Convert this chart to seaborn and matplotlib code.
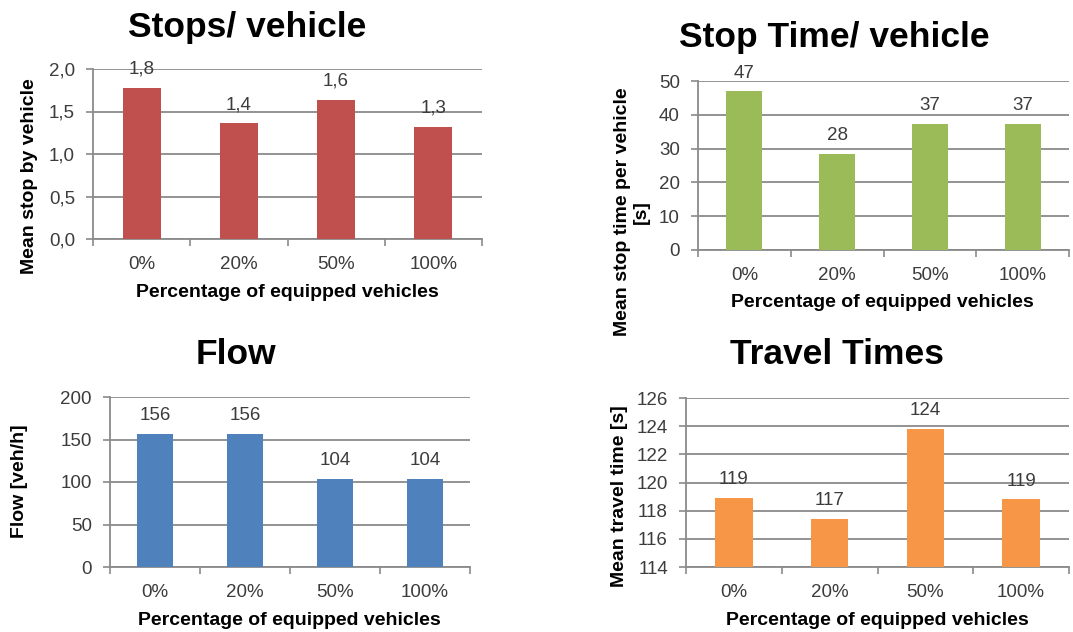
import matplotlib
matplotlib.use("Agg")
import matplotlib.pyplot as plt
import pandas as pd
import seaborn as sns

# ---- data -------------------------------------------------------------
categories = ["0%", "20%", "50%", "100%"]
stops_per_vehicle = [1.78, 1.36, 1.64, 1.32]
stop_time_per_vehicle = [46.9, 28.3, 37.4, 37.4]
flow = [156.4, 156.4, 103.9, 104.0]
travel_time = [118.9, 117.4, 123.8, 118.8]

stops_ticks = [0.0, 0.5, 1.0, 1.5, 2.0]
stop_time_ticks = [0, 10, 20, 30, 40, 50]
flow_ticks = [0, 50, 100, 150, 200]
travel_ticks = [114, 116, 118, 120, 122, 124, 126]

XLABEL = "Percentage of equipped vehicles"

# ---- style ------------------------------------------------------------
sns.set_theme(style="white")
plt.rcParams["font.family"] = ["Liberation Sans", "DejaVu Sans"]

W, H = 1073, 632
fig = plt.figure(figsize=(W / 100, H / 100), dpi=100)
fig.patch.set_facecolor("white")

GRID = "#8a8a8a"
TXT = "#3c3c3c"
TICK_FS = 13.5
VAL_FS = 13.5
LAB_FS = 14
TITLE_FS = 25.5


def comma(v, nd):
    return f"{v:.{nd}f}".replace(".", ",")


def px_axes(left, right, top, bottom):
    return fig.add_axes([left / W, 1 - bottom / H, (right - left) / W, (bottom - top) / H])


def ftext(x, y, s, **kw):
    return fig.text(x / W, 1 - y / H, s, **kw)


panels = [
    dict(box=(93, 482, 69, 239), values=stops_per_vehicle, color="#C0504D",
         ylim=(0, 2.0), ticks=stops_ticks, tickfmt=lambda v: comma(v, 1),
         labfmt=lambda v: comma(v, 1),
         title="Stops/ vehicle", title_xy=(247, 37),
         xlabel_xy=(287, 297),
         ylabel="Mean stop by vehicle", ylabel_xy=(30, 176)),
    dict(box=(698, 1069, 81, 250), values=stop_time_per_vehicle, color="#9BBB59",
         ylim=(0, 50), ticks=stop_time_ticks, tickfmt=lambda v: f"{v:.0f}",
         labfmt=lambda v: f"{v:.0f}",
         title="Stop Time/ vehicle", title_xy=(834, 47),
         xlabel_xy=(882, 307),
         ylabel="Mean stop time per vehicle\n[s]", ylabel_xy=(632, 212)),
    dict(box=(110, 470, 397, 567), values=flow, color="#4F81BD",
         ylim=(0, 200), ticks=flow_ticks, tickfmt=lambda v: f"{v:.0f}",
         labfmt=lambda v: f"{v:.0f}",
         title="Flow", title_xy=(236, 364),
         xlabel_xy=(289, 625),
         ylabel="Flow [veh/h]", ylabel_xy=(20, 481)),
    dict(box=(686, 1069, 398, 567), values=travel_time, color="#F79646",
         ylim=(114, 126), ticks=travel_ticks, tickfmt=lambda v: f"{v:.0f}",
         labfmt=lambda v: f"{v:.0f}",
         title="Travel Times", title_xy=(837, 364),
         xlabel_xy=(877, 625),
         ylabel="Mean travel time [s]", ylabel_xy=(620, 496)),
]

for p in panels:
    ax = px_axes(*p["box"])
    df = pd.DataFrame({"pct": categories, "val": p["values"]})
    sns.barplot(data=df, x="pct", y="val", color=p["color"], width=0.39,
                saturation=1, linewidth=0, ax=ax, zorder=3)
    ax.set_axisbelow(True)
    ax.set_xlim(-0.5, len(categories) - 0.5)
    ax.set_ylim(*p["ylim"])
    ax.set_xlabel("")
    ax.set_ylabel("")

    # y axis: gridlines, outward ticks, formatted labels
    ax.set_yticks(p["ticks"])
    ax.set_yticklabels([p["tickfmt"](v) for v in p["ticks"]])
    ax.yaxis.grid(True, color=GRID, lw=1.3)
    ax.tick_params(axis="y", left=True, direction="out", length=5, width=1.2,
                   color=GRID, pad=8, labelsize=TICK_FS, labelcolor=TXT)

    # x axis: ticks between categories, labels under category centres
    ax.set_xticks([i - 0.5 for i in range(len(categories) + 1)])
    ax.set_xticklabels([""] * (len(categories) + 1))
    ax.set_xticks(range(len(categories)), minor=True)
    ax.set_xticklabels(categories, minor=True)
    ax.tick_params(axis="x", which="major", bottom=True, direction="out",
                   length=5, width=1.2, color=GRID)
    ax.tick_params(axis="x", which="minor", bottom=True, length=0, pad=12.5,
                   labelsize=TICK_FS, labelcolor=TXT)

    for side in ("top", "right"):
        ax.spines[side].set_visible(False)
    for side in ("left", "bottom"):
        ax.spines[side].set_color(GRID)
        ax.spines[side].set_linewidth(1.3)

    # value labels above bars
    for i, v in enumerate(p["values"]):
        ax.annotate(p["labfmt"](v), (i, v), xytext=(0, 10),
                    textcoords="offset points", ha="center", va="baseline",
                    fontsize=VAL_FS, color=TXT, zorder=4, annotation_clip=False)

    tx, ty = p["title_xy"]
    ftext(tx, ty, p["title"], ha="center", va="baseline",
          fontsize=TITLE_FS, fontweight="bold", color="black")
    xx, xy = p["xlabel_xy"]
    ftext(xx, xy, XLABEL, ha="center", va="baseline",
          fontsize=LAB_FS, fontweight="bold", color="black")
    yx, yy = p["ylabel_xy"]
    ftext(yx, yy, p["ylabel"], ha="center", va="center", rotation=90,
          multialignment="center", fontsize=LAB_FS, fontweight="bold",
          color="black")

fig.savefig("out.png", dpi=100, facecolor="white")
